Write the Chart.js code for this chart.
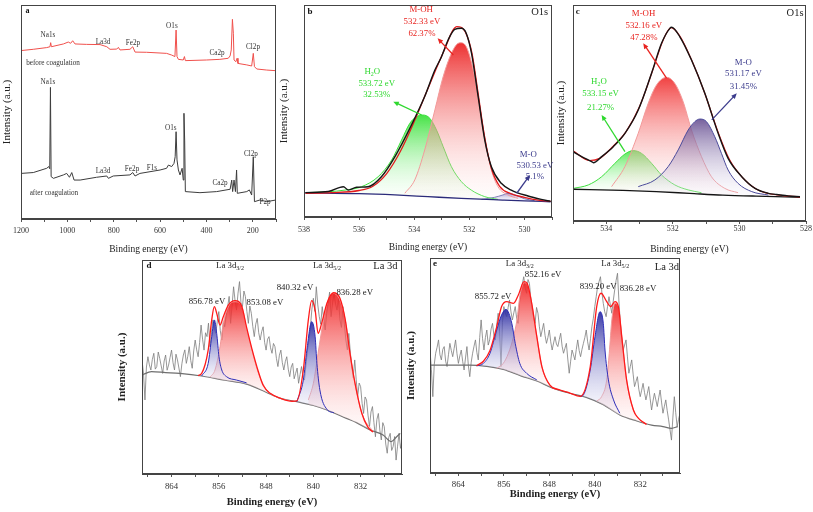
<!DOCTYPE html>
<html>
<head>
<meta charset="utf-8">
<script src="https://cdn.jsdelivr.net/npm/chart.js@4.4.1/dist/chart.umd.min.js"></script>
<style>
  html, body { margin: 0; padding: 0; background: #fff; }
  body { width: 813px; height: 512px; position: relative; overflow: hidden; }
  canvas { position: absolute; }
</style>
</head>
<body>
<canvas id="chartA"></canvas>
<canvas id="chartB"></canvas>
<canvas id="chartC"></canvas>
<canvas id="chartD"></canvas>
<canvas id="chartE"></canvas>
<script>
// ---------- data: [binding energy (eV), intensity (a.u.)] ----------

// (a) survey spectra
const surveyBefore = [[1200,78.7],[1147,79.3],[1089,80.1],[1075,80.5],[1072,82.4],[1069,80.5],[1017,81.8],[996,82.7],[986,82.1],[977,83.3],[967,81.8],[917,81.6],[859,81.5],[830,80.5],[816,79.3],[787,79.4],[780,80.2],[773,79.0],[730,79.3],[718,80.5],[712,79.0],[708,78.0],[658,77.9],[572,77.4],[550,76.6],[536,75.9],[531,88.3],[527,75.9],[521,74.6],[500,74.3],[495,75.9],[491,74.0],[399,74.3],[342,74.6],[306,75.1],[298,76.2],[293,79.0],[288,93.3],[284,86.8],[281,74.3],[273,73.5],[268,75.1],[264,72.7],[226,72.0],[205,71.5],[198,77.4],[193,71.2],[183,70.1],[140,69.6],[100,69.3]];
const surveyAfter = [[1200,21.3],[1147,21.7],[1089,23.7],[1080,24.5],[1076,23.5],[1073,61.5],[1070,19.8],[1060,19.0],[1017,20.6],[1003,21.3],[991,19.5],[981,21.7],[971,18.2],[945,18.2],[874,19.5],[830,20.1],[823,19.0],[802,20.1],[730,20.6],[718,21.7],[708,20.1],[687,21.3],[600,22.9],[572,23.7],[564,25.2],[550,24.5],[540,26.0],[535,29.1],[531,40.8],[527,27.6],[521,22.9],[514,20.6],[505,23.7],[500,18.2],[497,49.4],[494,36.9],[491,12.8],[428,12.3],[356,12.8],[298,13.9],[291,18.2],[287,12.8],[281,18.2],[275,12.8],[270,22.9],[267,12.0],[226,12.8],[215,13.6],[205,11.2],[198,29.1],[193,8.1],[169,8.9],[140,8.1],[100,8.9]];
const aTicks = [1200,1100,1000,900,800,700,600,500,400,300,200,100];
const aLabels = [1200,1000,800,600,400,200];

// (b) O1s before
const bRaw = [[537.94,11.5],[537.12,12.0],[536.57,14.3],[536.39,12.7],[536.09,14.0],[535.67,14.3],[535.19,19.0],[534.70,28.5],[534.10,43.4],[533.62,56.8],[533.25,69.3],[533.01,75.6],[532.77,83.5],[532.53,88.5],[532.29,89.0],[532.11,86.6],[531.92,77.2],[531.68,56.8],[531.44,36.3],[531.20,23.7],[530.84,15.9],[530.48,12.7],[529.87,9.9],[529.39,8.3],[529.05,7.4]];
const bFit = [[537.94,11.2],[537.0,11.5],[536.0,12.5],[535.5,14.5],[535.0,20.5],[534.5,31.0],[534.0,45.0],[533.6,57.5],[533.2,70.0],[532.9,79.0],[532.6,88.0],[532.45,89.8],[532.3,89.5],[532.1,86.0],[531.9,77.0],[531.7,60.0],[531.45,38.0],[531.2,23.0],[530.9,14.5],[530.5,11.0],[530.0,9.3],[529.5,8.0],[529.05,7.4]];
const bBackground = [[538,11.4],[536,11.0],[534.7,10.4],[533.5,9.6],[532.3,8.8],[530.8,8.0],[530,7.6],[529.05,7.2]];
const bMOH = [[534.34,11.2],[533.98,17.5],[533.62,31.6],[533.25,50.5],[532.95,66.2],[532.65,77.2],[532.41,81.9],[532.29,82.2],[532.11,80.3],[531.93,73.3],[531.74,61.5],[531.56,47.3],[531.38,33.2],[531.20,22.2],[530.96,14.3],[530.60,10.4],[530.23,8.8]];
const bH2O = [[537.96,11.5],[537.12,11.9],[536.51,12.7],[535.91,14.3],[535.31,19.0],[534.82,26.9],[534.46,36.3],[534.16,44.2],[533.92,47.3],[533.68,48.1],[533.43,46.5],[533.19,41.0],[532.95,33.2],[532.65,23.7],[532.29,16.7],[531.93,12.7],[531.44,9.6],[530.96,8.3]];
const bMO = [[531.56,8.3],[531.08,9.3],[530.78,10.4],[530.60,11.2],[530.36,10.5],[529.99,8.6],[529.63,7.7]];
const bTicks = [538,537,536,535,534,533,532,531,530,529];
const bLabels = [538,536,534,532,530];

// (c) O1s after
const cRaw = [[535.0,32.1],[534.7,29.5],[534.44,27.5],[534.39,27.0],[534.14,29.8],[533.79,34.4],[533.44,40.6],[533.04,51.4],[532.64,68.4],[532.34,82.3],[532.09,89.2],[532.04,89.7],[531.79,85.3],[531.44,74.5],[531.04,59.1],[530.64,40.6],[530.34,29.0],[529.93,20.5],[529.53,15.1],[529.13,12.8],[528.88,12.3],[528.53,11.6],[528.18,11.3]];
const cFit = [[535.0,32.5],[534.5,28.0],[534.2,29.0],[533.8,34.5],[533.4,41.5],[533.0,53.0],[532.6,70.0],[532.3,83.5],[532.05,89.5],[531.8,85.8],[531.45,75.0],[531.05,59.5],[530.65,41.5],[530.3,28.5],[529.9,20.0],[529.5,14.8],[529.1,12.6],[528.5,11.5],[528.18,11.2]];
const cBackground = [[535,14.7],[533.5,14.2],[532.5,13.6],[531.5,12.8],[530.5,12.0],[529.5,11.5],[528.18,11.0]];
const cMOH = [[533.84,15.9],[533.44,25.2],[533.04,40.6],[532.74,54.5],[532.49,63.0],[532.19,66.5],[531.94,63.7],[531.69,55.2],[531.44,42.1],[531.14,29.8],[530.84,20.5],[530.44,15.1],[530.04,13.1]];
const cMO = [[533.04,15.9],[532.54,19.0],[532.14,25.2],[531.84,32.9],[531.54,42.1],[531.34,46.0],[531.19,47.2],[530.99,46.0],[530.74,39.0],[530.54,31.3],[530.34,23.6],[530.04,17.4],[529.63,13.6],[529.13,12.0]];
const cH2O = [[534.99,15.1],[534.54,16.7],[534.14,20.5],[533.74,26.7],[533.44,31.0],[533.19,32.6],[532.94,31.3],[532.64,26.7],[532.34,21.3],[531.94,16.7],[531.54,14.4],[531.14,13.1]];
const cTicks = [535,534,533,532,531,530,529,528];
const cLabels = [534,532,530,528];

// (d), (e) La 3d raw scans share one energy grid (0.25 eV)
const laEnergy = [
  869,868.75,868.5,868.25,868,867.75,867.5,867.25,867,866.75,866.5,866.25,
  866,865.75,865.5,865.25,865,864.75,864.5,864.25,864,863.75,863.5,863.25,
  863,862.75,862.5,862.25,862,861.75,861.5,861.25,861,860.75,860.5,860.25,
  860,859.75,859.5,859.25,859,858.75,858.5,858.25,858,857.75,857.5,857.25,
  857,856.75,856.5,856.25,856,855.75,855.5,855.25,855,854.75,854.5,854.25,
  854,853.75,853.5,853.25,853,852.75,852.5,852.25,852,851.75,851.5,851.25,
  851,850.75,850.5,850.25,850,849.75,849.5,849.25,849,848.75,848.5,848.25,
  848,847.75,847.5,847.25,847,846.75,846.5,846.25,846,845.75,845.5,845.25,
  845,844.75,844.5,844.25,844,843.75,843.5,843.25,843,842.75,842.5,842.25,
  842,841.75,841.5,841.25,841,840.75,840.5,840.25,840,839.75,839.5,839.25,
  839,838.75,838.5,838.25,838,837.75,837.5,837.25,837,836.75,836.5,836.25,
  836,835.75,835.5,835.25,835,834.75,834.5,834.25,834,833.75,833.5,833.25,
  833,832.75,832.5,832.25,832,831.75,831.5,831.25,831,830.75,830.5,830.25,
  830,829.75,829.5,829.25,829,828.75,828.5,828.25,828,827.75,827.5,827.25,
  827,826.75,826.5,826.25,826,825.75,825.5,825.25,825];
const dRaw = [
  53.3,47.0,34.6,50.0,54.8,51.0,48.6,53.5,56.4,49.0,50.2,57.0,
  54.0,50.5,47.0,52.8,55.6,48.5,50.9,54.5,57.9,52.0,48.6,56.0,
  53.3,49.5,45.5,51.5,55.6,58.0,51.7,55.0,59.5,53.0,49.4,57.5,
  62.6,58.0,54.8,61.5,69.6,63.0,57.9,66.0,64.2,70.5,59.5,66.0,
  72.0,68.0,65.7,71.5,75.9,67.0,62.6,71.0,68.8,74.0,78.2,83.0,
  70.4,79.0,87.5,81.0,76.6,84.5,89.9,80.0,78.2,85.5,82.9,76.0,
  70.4,78.5,75.1,69.0,64.2,70.0,72.7,66.0,62.6,66.5,68.8,61.5,
  57.9,63.0,64.2,59.0,56.4,61.0,59.5,54.0,50.2,55.5,57.9,52.0,
  48.6,52.5,54.8,49.0,45.5,50.0,51.7,44.5,47.0,49.5,42.4,46.5,
  50.2,45.0,43.9,51.0,57.9,62.0,68.8,77.0,82.1,76.0,87.5,79.0,
  73.5,70.0,78.2,72.5,67.3,75.0,79.8,85.0,73.5,80.0,84.4,79.5,
  76.6,82.0,72.0,68.5,78.2,70.0,62.6,58.0,65.7,57.0,50.2,45.0,
  53.3,44.0,36.1,42.5,40.8,33.0,28.3,36.0,34.6,27.5,22.1,29.0,
  31.5,24.0,17.4,25.5,28.3,20.5,15.9,24.0,22.1,14.0,9.7,17.0,
  19.0,11.0,12.8,17.5,6.5,13.0,19.0,12.0,15.9];
const eRaw = [
  57.2,48.0,35.5,50.5,55.7,58.5,61.9,55.0,52.6,57.5,58.8,52.0,
  49.5,55.0,60.3,57.0,54.1,58.0,61.9,55.5,51.0,54.5,57.2,52.0,
  47.9,53.5,58.8,50.0,44.8,51.5,55.7,59.0,61.9,56.0,52.6,63.0,
  71.2,62.5,57.2,63.0,66.5,59.5,61.9,67.0,69.6,64.0,61.9,69.0,
  74.3,66.0,49.5,70.0,77.4,74.5,72.7,77.0,80.5,75.0,71.2,74.5,
  77.4,72.0,69.6,79.0,85.1,88.0,91.3,86.0,83.6,90.0,88.2,81.0,
  75.8,72.0,69.6,77.0,74.3,68.0,63.4,66.5,69.6,64.0,60.3,63.0,
  66.5,61.0,57.2,60.5,63.4,60.0,58.8,62.0,65.0,59.0,55.7,58.0,
  60.3,53.0,46.4,52.0,57.2,55.0,52.6,57.5,61.9,57.0,54.1,57.5,
  60.3,63.0,66.5,61.0,57.2,62.5,68.1,72.0,77.4,82.0,86.7,89.0,
  91.3,84.0,78.9,75.0,72.7,77.5,82.0,78.0,74.3,80.0,85.1,89.5,
  92.9,80.0,69.6,62.0,57.2,59.5,61.9,54.0,46.4,49.5,52.6,46.0,
  40.2,42.5,44.8,39.0,35.5,38.5,41.7,37.5,34.0,37.0,40.2,34.5,
  29.3,33.5,37.1,34.0,30.9,35.0,38.6,33.0,27.8,31.0,34.0,29.0,
  24.7,20.0,15.3,26.0,35.5,28.0,21.6,25.0,27.8];

const dFit = [[859.5,46.0],[858.9,47.0],[857.8,57.9],[857.2,72.0],[856.76,78.2],[856.3,74.5],[855.8,69.6],[855.24,73.5],[854.4,78.9],[853.26,81.0],[852.1,78.2],[851.3,68.5],[850.4,58.5],[849.3,47.8],[848.5,41.5],[847.3,37.7],[845.5,35.3],[843.6,34.0],[842.8,34.2],[841.7,48.6],[840.85,72.0],[840.28,81.0],[839.7,76.6],[839.2,65.7],[838.6,70.4],[837.7,79.8],[836.6,84.7],[835.5,82.1],[834.6,72.0],[833.8,56.4],[832.95,42.4],[831.8,28.4],[830.8,22.0],[829.9,19.6]];
const dBackground = [[869,46.3],[867.4,47.8],[865,47.4],[862.6,47.0],[858.9,45.8],[855,43.8],[851.3,42.0],[848,38.2],[845.65,35.4],[842.8,33.8],[840,32.0],[837.7,29.9],[834.4,26.0],[832.7,24.0],[830.4,20.6],[828.2,18.2],[826.8,15.1],[825.9,17.4],[825.3,19.0]];
const dPeak1 = [[858.9,45.8],[857.8,51.7],[857.2,64.2],[856.76,72.0],[856.36,65.7],[855.97,54.8],[855.5,48.6],[854.7,45.5],[853.0,43.9],[851.3,42.6]];
const dPeak2 = [[857.5,45.3],[856.65,48.6],[855.8,59.5],[855.24,70.4],[854.4,78.2],[853.26,80.5],[852.1,78.2],[851.3,68.0],[850.4,57.9],[849.3,47.1],[847.9,39.3],[845.65,35.4],[844.0,34.3]];
const dPeak3 = [[842.8,33.8],[841.7,43.9],[841.1,57.9],[840.28,71.2],[839.7,64.2],[839.4,51.7],[838.9,39.3],[837.7,30.2],[836.5,28.6]];
const dPeak4 = [[840.85,34.6],[840.0,42.4],[839.2,56.4],[838.3,72.0],[837.5,81.3],[836.6,84.4],[835.5,81.3],[834.6,72.0],[833.8,56.4],[832.95,42.4],[831.8,28.4],[829.9,19.8]];

const eFit = [[860.8,49.9],[859.6,52.0],[858.44,57.0],[857.26,68.0],[856.4,77.4],[855.5,79.7],[854.3,78.9],[853.45,82.8],[852.45,89.0],[851.9,88.2],[851.1,78.9],[850.2,63.4],[849.3,49.4],[847.9,40.9],[846.1,38.6],[844.4,37.2],[842.6,35.6],[840.8,49.4],[839.66,77.4],[838.9,83.6],[837.9,79.7],[837.2,77.4],[836.45,79.7],[835.85,77.4],[835.25,63.4],[834.4,43.3],[833.2,29.3],[832.3,25.4],[830.9,22.6]];
const eBackground = [[869,50.2],[862,50.2],[859,49.6],[856.1,48.2],[853,45.2],[850.2,42.8],[847.5,39.6],[844.4,37.1],[841.5,35.2],[838.5,31.8],[835.6,27.0],[832.6,24.2],[830,22.3],[828,21.6],[826.5,20.8],[825.4,21.6]];
const ePeak1 = [[860.8,49.8],[859.6,51.0],[858.44,55.7],[857.26,66.5],[856.4,73.5],[855.62,76.1],[854.6,69.6],[854.0,60.3],[853.2,51.0],[852.0,46.4],[850.2,43.3]];
const ePeak2 = [[857.26,48.7],[856.1,51.0],[855.2,55.7],[854.3,63.4],[853.7,71.2],[853.2,82.0],[852.45,88.5],[851.7,86.7],[851.1,78.9],[850.2,63.4],[849.3,49.4],[847.9,40.9],[846.1,38.6]];
const ePeak3 = [[842.6,35.5],[842.0,36.3],[840.8,47.9],[839.96,63.4],[839.08,75.0],[838.5,69.6],[838.2,57.2],[837.6,43.3],[836.7,34.0],[835.6,27.8]];
const ePeak4 = [[839.66,33.5],[838.8,35.5],[837.9,43.3],[837.45,55.7],[837.0,71.2],[836.45,78.9],[835.85,77.4],[835.25,63.4],[834.4,43.3],[833.2,29.3],[832.3,25.4],[830.9,22.6]];
const laTicks = [868,864,860,856,852,848,844,840,836,832,828];
const laLabels = [864,856,848,840,832];

// ---------- drawing ----------
const SERIF = '"Liberation Serif", "DejaVu Serif", serif';
const RED = '#e8231f', GREEN = '#2fd82f', NAVY = '#3b3b8c';

const NOTES = {
  chartA: {size: 7.2, color: '#333', texts: [
    {text: 'a', x: 1172, y: 97, size: 8, bold: true, color: '#111'},
    {text: 'Na1s', x: 1084, y: 86.0}, {text: 'La3d', x: 846, y: 82.7}, {text: 'Fe2p', x: 717, y: 82.2},
    {text: 'O1s', x: 549, y: 90.2}, {text: 'Ca2p', x: 354, y: 77.6}, {text: 'Cl2p', x: 199, y: 80.4},
    {text: 'before coagulation', x: 1062, y: 73.0},
    {text: 'Na1s', x: 1084, y: 64.0}, {text: 'O1s', x: 554, y: 42.5}, {text: 'La3d', x: 846, y: 22.4},
    {text: 'Fe2p', x: 721, y: 23.4}, {text: 'F1s', x: 635, y: 23.8}, {text: 'Ca2p', x: 341, y: 16.8},
    {text: 'Cl2p', x: 208, y: 30.4}, {text: 'P2p', x: 147, y: 7.9},
    {text: 'after coagulation', x: 1058, y: 12.1}
  ]},
  chartB: {size: 8.8, color: '#222', texts: [
    {text: 'b', x: 537.78, y: 96.7, size: 9, bold: true, color: '#111'},
    {text: 'O1s', x: 529.45, y: 96.7, size: 10.5},
    {text: 'M-OH', x: 533.75, y: 97.8, color: RED}, {text: '532.33 eV', x: 533.72, y: 92.0, color: RED}, {text: '62.37%', x: 533.72, y: 86.5, color: RED},
    {text: ['H', ['2'], 'O'], x: 535.52, y: 68.4, color: GREEN}, {text: '533.72 eV', x: 535.36, y: 63.1, color: GREEN}, {text: '32.53%', x: 535.36, y: 57.5, color: GREEN},
    {text: 'M-O', x: 529.86, y: 29.2, color: NAVY}, {text: '530.53 eV', x: 529.62, y: 24.1, color: NAVY}, {text: '5.1%', x: 529.62, y: 19.0, color: NAVY}
  ], arrows: [
    {from: [532.58, 76.4], to: [533.15, 84.3], color: RED},
    {from: [533.73, 48.1], to: [534.76, 54.4], color: GREEN},
    {from: [530.28, 11.2], to: [529.80, 19.8], color: NAVY}
  ]},
  chartC: {size: 8.8, color: '#222', texts: [
    {text: 'c', x: 534.86, y: 96.9, size: 9, bold: true, color: '#111'},
    {text: 'O1s', x: 528.33, y: 96.1, size: 10.5},
    {text: 'M-OH', x: 532.88, y: 95.8, color: RED}, {text: '532.16 eV', x: 532.87, y: 90.3, color: RED}, {text: '47.28%', x: 532.87, y: 85.0, color: RED},
    {text: 'M-O', x: 529.88, y: 73.3, color: NAVY}, {text: '531.17 eV', x: 529.88, y: 68.1, color: NAVY}, {text: '31.45%', x: 529.88, y: 62.2, color: NAVY},
    {text: ['H', ['2'], 'O'], x: 534.22, y: 64.5, color: GREEN}, {text: '533.15 eV', x: 534.17, y: 58.8, color: GREEN}, {text: '21.27%', x: 534.17, y: 52.6, color: GREEN}
  ], arrows: [
    {from: [532.19, 66.1], to: [532.89, 82.3], color: RED},
    {from: [533.44, 32.1], to: [534.14, 49.1], color: GREEN},
    {from: [530.83, 46.8], to: [530.08, 59.1], color: NAVY}
  ]},
  chartD: {size: 8.8, color: '#222', texts: [
    {text: 'd', x: 867.8, y: 97.2, size: 9, bold: true, color: '#111'},
    {text: ['La 3d', ['3/2']], x: 854.1, y: 97.2},
    {text: ['La 3d', ['5/2']], x: 837.7, y: 97.2},
    {text: 'La 3d', x: 827.8, y: 97.0, size: 10.5},
    {text: '856.78 eV', x: 858.0, y: 80.4}, {text: '853.08 eV', x: 848.2, y: 79.9},
    {text: '840.32 eV', x: 843.1, y: 86.9}, {text: '836.28 eV', x: 833.0, y: 84.6}
  ]},
  chartE: {size: 8.8, color: '#222', texts: [
    {text: 'e', x: 868.1, y: 97.2, size: 9, bold: true, color: '#111'},
    {text: ['La 3d', ['3/2']], x: 853.2, y: 97.2},
    {text: '852.16 eV', x: 849.1, y: 92.1},
    {text: ['La 3d', ['5/2']], x: 836.4, y: 97.2},
    {text: 'La 3d', x: 827.3, y: 95.8, size: 10.5},
    {text: '855.72 eV', x: 857.9, y: 81.9}, {text: '839.20 eV', x: 839.4, y: 86.5}, {text: '836.28 eV', x: 832.4, y: 85.6}
  ]}
};

function drawRich(ctx, parts, x, y, size, bold, color) {
  const list = typeof parts === 'string' ? [parts] : parts;
  const w = bold ? 'bold ' : '';
  const mainFont = w + size + 'px ' + SERIF;
  const subFont = w + (size * 0.68).toFixed(1) + 'px ' + SERIF;
  let total = 0;
  const widths = list.map(p => {
    ctx.font = Array.isArray(p) ? subFont : mainFont;
    const width = ctx.measureText(Array.isArray(p) ? p[0] : p).width;
    total += width;
    return width;
  });
  let cx = x - total / 2;
  ctx.fillStyle = color;
  ctx.textBaseline = 'middle';
  ctx.textAlign = 'left';
  list.forEach((p, i) => {
    const sub = Array.isArray(p);
    ctx.font = sub ? subFont : mainFont;
    ctx.fillText(sub ? p[0] : p, cx, sub ? y + size * 0.32 : y);
    cx += widths[i];
  });
}

function drawArrow(ctx, x1, y1, x2, y2, color) {
  const ang = Math.atan2(y2 - y1, x2 - x1);
  const head = 6;
  ctx.strokeStyle = color;
  ctx.fillStyle = color;
  ctx.lineWidth = 1.3;
  ctx.beginPath();
  ctx.moveTo(x1, y1);
  ctx.lineTo(x2 - Math.cos(ang) * head * 0.7, y2 - Math.sin(ang) * head * 0.7);
  ctx.stroke();
  ctx.beginPath();
  ctx.moveTo(x2, y2);
  ctx.lineTo(x2 - head * Math.cos(ang - 0.42), y2 - head * Math.sin(ang - 0.42));
  ctx.lineTo(x2 - head * Math.cos(ang + 0.42), y2 - head * Math.sin(ang + 0.42));
  ctx.closePath();
  ctx.fill();
}

// frame round the plot area + the text and arrows, placed through the scales
Chart.register({
  id: 'panelNotes',
  afterDraw(chart) {
    const {ctx, chartArea: area, scales: {x, y}} = chart;
    const notes = NOTES[chart.canvas.id] || {};
    ctx.save();
    ctx.strokeStyle = '#444';
    ctx.lineWidth = 1;
    ctx.strokeRect(Math.round(area.left) + 0.5, Math.round(area.top) + 0.5, Math.round(area.width) - 1, Math.round(area.height) - 1);
    (notes.arrows || []).forEach(a => drawArrow(ctx, x.getPixelForValue(a.from[0]), y.getPixelForValue(a.from[1]), x.getPixelForValue(a.to[0]), y.getPixelForValue(a.to[1]), a.color));
    (notes.texts || []).forEach(t => drawRich(ctx, t.text, x.getPixelForValue(t.x), y.getPixelForValue(t.y), t.size || notes.size, t.bold, t.color || notes.color));
    ctx.restore();
  }
});

function pts(arr) { return arr.map(p => ({x: p[0], y: p[1]})); }
function zipXY(xs, ys) { return xs.map((x, i) => ({x: x, y: ys[i]})); }

// vertical gradient from the peak top down to its lowest point
function gradFill(topColor, bottomColor) {
  return function (context) {
    const chart = context.chart;
    const {ctx, chartArea, scales} = chart;
    if (!chartArea || !scales.y) return topColor;
    const data = chart.data.datasets[context.datasetIndex].data;
    const ys = data.map(p => p.y);
    const y0 = scales.y.getPixelForValue(Math.max(...ys));
    const y1 = scales.y.getPixelForValue(Math.min(...ys));
    if (!isFinite(y0) || !isFinite(y1) || y0 === y1) return topColor;
    const g = ctx.createLinearGradient(0, y0, 0, y1);
    g.addColorStop(0, topColor);
    g.addColorStop(1, bottomColor);
    return g;
  };
}

function trace(data, color, width, extra) {
  return Object.assign({data: data, borderColor: color, borderWidth: width, pointRadius: 0, fill: false, tension: 0}, extra || {});
}
function smooth(arr, color, width) {
  return trace(pts(arr), color, width, {cubicInterpolationMode: 'monotone'});
}
function peak(arr, color, baseIdx, topColor, bottomColor) {
  return trace(pts(arr), color, 1, {cubicInterpolationMode: 'monotone', fill: baseIdx, backgroundColor: gradFill(topColor, bottomColor)});
}

function makePanel(id, g, datasets) {
  const lhY = g.yTitleSize * 1.2, lhX = g.titleSize * 1.2, lhT = g.tickSize * 1.2;
  const padTop = Math.min(12, g.t);
  const left = Math.round(g.yTitleX - lhY / 2);
  const top = g.t - padTop;
  const width = g.r + 10 - left;
  const height = Math.round(g.titleY + lhX / 2) - top;
  const yWidth = g.l - left;
  const xHeight = top + height - g.b;
  const cv = document.getElementById(id);
  cv.width = width;
  cv.height = height;
  cv.style.left = left + 'px';
  cv.style.top = top + 'px';
  cv.style.width = width + 'px';
  cv.style.height = height + 'px';
  const weight = g.bold ? 'bold' : 'normal';
  return new Chart(cv, {
    type: 'line',
    data: {datasets: datasets},
    options: {
      responsive: false,
      animation: false,
      devicePixelRatio: 1,
      layout: {padding: {left: 0, top: padTop, right: 10, bottom: 0}},
      plugins: {legend: {display: false}, tooltip: {enabled: false}},
      scales: {
        x: {
          type: 'linear', reverse: true, min: g.min, max: g.max,
          afterFit: s => { s.height = xHeight; },
          afterBuildTicks: s => { s.ticks = g.ticks.map(v => ({value: v})); },
          ticks: {
            autoSkip: false, maxRotation: 0, color: '#333',
            padding: g.tickY - g.b - 3 - lhT / 2,
            font: {family: SERIF, size: g.tickSize},
            callback: v => (g.labels.includes(v) ? String(v) : '')
          },
          grid: {display: true, drawOnChartArea: false, drawTicks: true, tickLength: 3, color: '#555'},
          border: {display: true, color: '#444'},
          title: {display: true, text: 'Binding energy (eV)', padding: 0, color: '#222', font: {family: SERIF, size: g.titleSize, weight: weight}}
        },
        y: {
          min: 0, max: 100,
          afterFit: s => { s.width = yWidth; },
          ticks: {display: false},
          grid: {display: false},
          border: {display: true, color: '#444'},
          title: {display: true, text: 'Intensity (a.u.)', padding: 0, color: '#222', font: {family: SERIF, size: g.yTitleSize, weight: weight}}
        }
      }
    }
  });
}

// (a)
makePanel('chartA', {l: 21, t: 5, r: 276, b: 219, yTitleX: 7.5, tickY: 231, titleY: 249, min: 100, max: 1200,
  ticks: aTicks, labels: aLabels, tickSize: 8, titleSize: 9.5, yTitleSize: 11}, [
  trace(pts(surveyBefore), '#f0504c', 1),
  trace(pts(surveyAfter), '#3c3c3c', 1)
]);

// (b)  index 2 = background used as fill floor
makePanel('chartB', {l: 304, t: 5, r: 552, b: 217, yTitleX: 285, tickY: 230, titleY: 247, min: 529, max: 538,
  ticks: bTicks, labels: bLabels, tickSize: 8, titleSize: 9.5, yTitleSize: 11}, [
  trace(pts(bRaw), '#151515', 1.4, {cubicInterpolationMode: 'monotone'}),
  smooth(bFit, '#e31a1c', 1.3),
  smooth(bBackground, '#2b2b7a', 1.3),
  peak(bMOH, '#f29a9a', 2, 'rgba(236,38,38,0.95)', 'rgba(255,235,235,0.15)'),
  peak(bH2O, '#3ee03e', 2, 'rgba(60,225,60,0.95)', 'rgba(235,255,235,0.15)'),
  peak(bMO, '#6a6ab0', 2, 'rgba(110,100,185,0.7)', 'rgba(230,230,250,0.2)')
]);

// (c)
makePanel('chartC', {l: 573, t: 5, r: 806, b: 221, yTitleX: 561.5, tickY: 229, titleY: 249, min: 528, max: 535,
  ticks: cTicks, labels: cLabels, tickSize: 8, titleSize: 9.5, yTitleSize: 11}, [
  trace(pts(cRaw), '#151515', 1.4, {cubicInterpolationMode: 'monotone'}),
  smooth(cFit, '#e31a1c', 1.2),
  smooth(cBackground, '#151515', 1.4),
  peak(cMO, '#4a4a9a', 2, 'rgba(95,70,140,0.85)', 'rgba(235,230,245,0.15)'),
  peak(cMOH, '#f29a9a', 2, 'rgba(240,50,50,0.92)', 'rgba(255,235,235,0.15)'),
  peak(cH2O, '#3ee03e', 2, 'rgba(70,230,70,0.9)', 'rgba(235,255,235,0.15)')
]);

// (d)  index 5 = background
makePanel('chartD', {l: 142, t: 260, r: 402, b: 474, yTitleX: 123, tickY: 487, titleY: 503, min: 825, max: 869,
  ticks: laTicks, labels: laLabels, tickSize: 8.8, titleSize: 10.5, yTitleSize: 11, bold: true}, [
  smooth(dFit, '#ff1a1a', 1.3),
  peak(dPeak1, '#2e2eb8', 5, 'rgba(40,40,160,0.92)', 'rgba(235,235,250,0.25)'),
  peak(dPeak3, '#2e2eb8', 5, 'rgba(40,40,160,0.92)', 'rgba(235,235,250,0.25)'),
  peak(dPeak2, '#f09a9a', 5, 'rgba(240,30,30,0.9)', 'rgba(255,240,240,0.25)'),
  peak(dPeak4, '#f09a9a', 5, 'rgba(240,30,30,0.9)', 'rgba(255,240,240,0.25)'),
  smooth(dBackground, '#6e6e6e', 1.2),
  trace(zipXY(laEnergy, dRaw), '#7c7c7c', 0.8)
]);

// (e)
makePanel('chartE', {l: 430, t: 258, r: 680, b: 473, yTitleX: 412, tickY: 485, titleY: 495, min: 825, max: 869,
  ticks: laTicks, labels: laLabels, tickSize: 8.8, titleSize: 10.5, yTitleSize: 11, bold: true}, [
  smooth(eFit, '#ff1a1a', 1.3),
  peak(ePeak1, '#2e2eb8', 5, 'rgba(40,40,160,0.92)', 'rgba(235,235,250,0.25)'),
  peak(ePeak3, '#2e2eb8', 5, 'rgba(40,40,160,0.92)', 'rgba(235,235,250,0.25)'),
  peak(ePeak2, '#f09a9a', 5, 'rgba(240,30,30,0.9)', 'rgba(255,240,240,0.25)'),
  peak(ePeak4, '#f09a9a', 5, 'rgba(240,30,30,0.9)', 'rgba(255,240,240,0.25)'),
  smooth(eBackground, '#6e6e6e', 1.2),
  trace(zipXY(laEnergy, eRaw), '#7c7c7c', 0.8)
]);
</script>
</body>
</html>
